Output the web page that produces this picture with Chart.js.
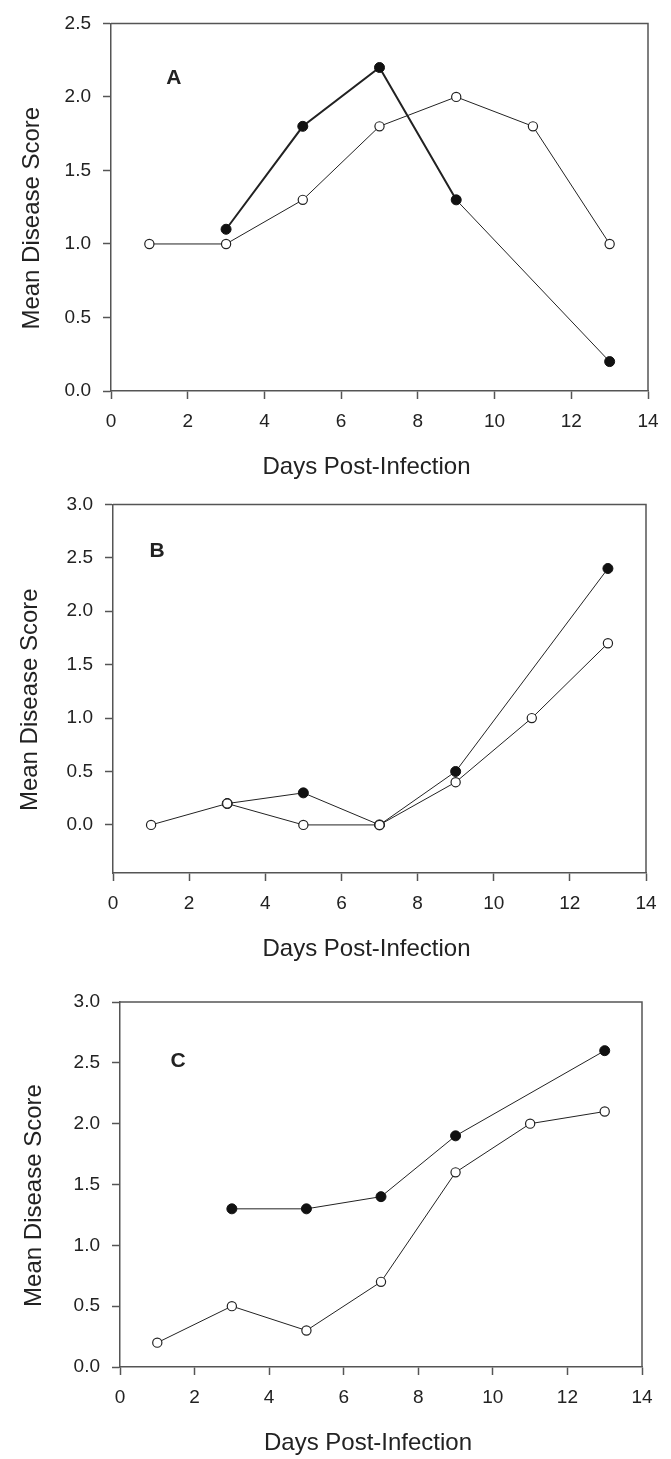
<!DOCTYPE html>
<html>
<head>
<meta charset="utf-8">
<script src="https://cdn.jsdelivr.net/npm/chart.js@4/dist/chart.umd.min.js"></script>
<style>
  body { margin: 0; background: #fff; }
  canvas { position: absolute; left: 0; }
</style>
</head>
<body>
<canvas id="chartA" width="671" height="481" style="top:0px"></canvas>
<canvas id="chartB" width="671" height="482" style="top:481px"></canvas>
<canvas id="chartC" width="671" height="494" style="top:963px"></canvas>
<script>
// days sampled
var daysOpen = [1, 3, 5, 7, 9, 11, 13];
var daysFilled = [3, 5, 7, 9, 13];

// panel A
var openA = [1.0, 1.0, 1.3, 1.8, 2.0, 1.8, 1.0];
var filledA = [1.1, 1.8, 2.2, 1.3, 0.2];
// panel B
var openB = [0.0, 0.2, 0.0, 0.0, 0.4, 1.0, 1.7];
var filledB = [0.2, 0.3, 0.0, 0.5, 2.4];
// panel C
var openC = [0.2, 0.5, 0.3, 0.7, 1.6, 2.0, 2.1];
var filledC = [1.3, 1.3, 1.4, 1.9, 2.6];

var xTicks = [0, 2, 4, 6, 8, 10, 12, 14];
var yTicksA = [0, 0.5, 1.0, 1.5, 2.0, 2.5];
var yTicksBC = [0, 0.5, 1.0, 1.5, 2.0, 2.5, 3.0];

var xTitle = 'Days Post-Infection';
var yTitle = 'Mean Disease Score';

var ink = '#222';
var axisCol = '#555';
var fam = '"Liberation Sans", Arial, sans-serif';

function pts(xs, ys) {
  return xs.map(function(x, i) { return {x: x, y: ys[i]}; });
}

// top + right edge of the box, axis titles and the panel letter
var framePlugin = {
  id: 'frame',
  afterDraw: function(chart, args, opts) {
    var a = chart.chartArea, ctx = chart.ctx;
    ctx.save();
    ctx.strokeStyle = axisCol;
    ctx.lineWidth = 1.5;
    ctx.beginPath();
    ctx.moveTo(a.left, a.top);
    ctx.lineTo(a.right, a.top);
    ctx.lineTo(a.right, a.bottom);
    ctx.stroke();

    ctx.fillStyle = ink;
    ctx.textAlign = 'center';
    ctx.textBaseline = 'middle';
    ctx.font = 'bold 21px ' + fam;
    ctx.fillText(opts.letter,
      chart.scales.x.getPixelForValue(opts.at[0]),
      chart.scales.y.getPixelForValue(opts.at[1]));

    // the original figure sets its titles a bit low / left of the box centre
    ctx.font = '24px ' + fam;
    ctx.fillText(xTitle, (a.left + a.right) / 2 - 13, a.bottom + 76);
    ctx.translate(opts.yTitleX, (a.top + a.bottom) / 2 + 11);
    ctx.rotate(-Math.PI / 2);
    ctx.fillText(yTitle, 0, 0);
    ctx.restore();
  }
};

function makeChart(id, p) {
  var openSet = {
    data: pts(daysOpen, p.open),
    borderColor: ink,
    borderWidth: 1,
    pointRadius: 4.6,
    pointBackgroundColor: '#fff',
    pointBorderColor: ink,
    pointBorderWidth: 1.2
  };
  var filledSet = {
    data: pts(daysFilled, p.filled),
    borderColor: ink,
    borderWidth: 1,
    pointRadius: 5,
    pointBackgroundColor: '#111',
    pointBorderColor: '#111',
    pointBorderWidth: 1
  };
  if (p.thick) {
    filledSet.segment = {
      borderWidth: function(c) { return c.p0DataIndex < p.thick ? 2 : 1; }
    };
  }
  return new Chart(document.getElementById(id), {
    type: 'line',
    data: { datasets: [openSet, filledSet] },
    options: {
      responsive: false,
      animation: false,
      devicePixelRatio: 1,
      layout: { padding: { top: p.padTop, right: p.padRight, left: 0, bottom: 0 } },
      plugins: {
        legend: { display: false },
        tooltip: { enabled: false },
        frame: { letter: p.letter, at: p.letterAt, yTitleX: p.yTitleX }
      },
      scales: {
        x: {
          type: 'linear',
          min: 0,
          max: 14,
          afterBuildTicks: function(s) { s.ticks = xTicks.map(function(v) { return {value: v}; }); },
          afterFit: function(s) { s.height = 90; },
          grid: { drawOnChartArea: false, drawTicks: true, tickLength: 8, tickColor: axisCol, tickWidth: 1.5 },
          border: { display: true, color: axisCol, width: 1.5 },
          ticks: { color: ink, padding: 11, maxRotation: 0, font: { family: fam, size: 19 } }
        },
        y: {
          min: p.yMin,
          max: p.yMax,
          afterBuildTicks: function(s) { s.ticks = p.yTicks.map(function(v) { return {value: v}; }); },
          afterFit: function(s) { s.width = p.yWidth; },
          grid: { drawOnChartArea: false, drawTicks: true, tickLength: 8, tickColor: axisCol, tickWidth: 1.5 },
          border: { display: true, color: axisCol, width: 1.5 },
          ticks: { color: ink, padding: 12, font: { family: fam, size: 19 },
                   callback: function(v) { return Number(v).toFixed(1); } }
        }
      }
    },
    plugins: [framePlugin]
  });
}

makeChart('chartA', {
  open: openA, filled: filledA, yMin: 0, yMax: 2.5, yTicks: yTicksA,
  padTop: 16, padRight: 23, yWidth: 111, yTitleX: 32,
  letter: 'A', letterAt: [1.64, 2.13], thick: 3
});
makeChart('chartB', {
  open: openB, filled: filledB, yMin: -0.45, yMax: 3.0, yTicks: yTicksBC,
  padTop: 22, padRight: 25, yWidth: 113, yTitleX: 30,
  letter: 'B', letterAt: [1.16, 2.56]
});
makeChart('chartC', {
  open: openC, filled: filledC, yMin: 0, yMax: 3.0, yTicks: yTicksBC,
  padTop: 39, padRight: 29, yWidth: 120, yTitleX: 34,
  letter: 'C', letterAt: [1.56, 2.51]
});
</script>
</body>
</html>
